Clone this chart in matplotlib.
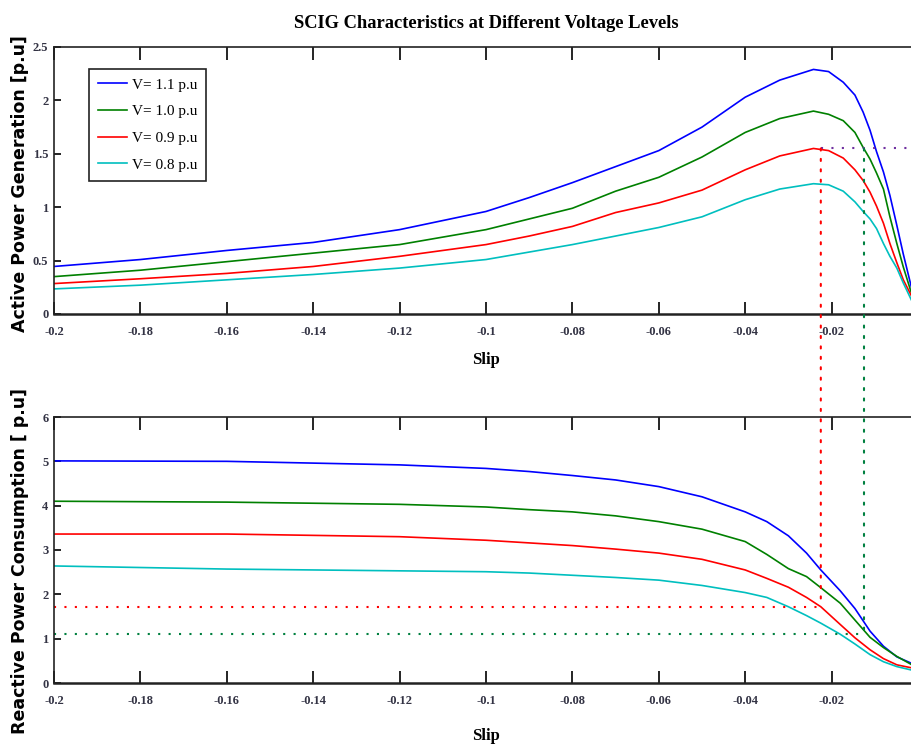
"""
SCIG characteristics at different voltage levels: active power generation
and reactive power consumption against slip.
"""

import matplotlib
matplotlib.use("Agg")
import matplotlib.pyplot as plt
from matplotlib.patches import ConnectionPatch

# ---- data ----
voltage_labels = ["V= 1.1 p.u", "V= 1.0 p.u", "V= 0.9 p.u", "V= 0.8 p.u"]
line_colors = ["#0000ff", "#008000", "#ff0000", "#00bfbf"]

slip_p = [-0.2, -0.18, -0.16, -0.14, -0.12, -0.1, -0.09, -0.08, -0.07, -0.06,
          -0.05, -0.04, -0.032, -0.0242, -0.0207, -0.0173, -0.0146, -0.0127,
          -0.0111, -0.0096, -0.008, -0.0065, -0.0049, -0.0034, -0.0014, 0.0]
p_11 = [0.445, 0.51, 0.595, 0.67, 0.79, 0.96, 1.09, 1.23, 1.38, 1.53,
        1.75, 2.03, 2.19, 2.29, 2.27, 2.17, 2.05, 1.89,
        1.72, 1.52, 1.33, 1.11, 0.83, 0.56, 0.23, 0.02]
p_10 = [0.35, 0.41, 0.49, 0.57, 0.65, 0.79, 0.89, 0.99, 1.15, 1.28,
        1.47, 1.70, 1.83, 1.90, 1.87, 1.81, 1.70, 1.56,
        1.45, 1.32, 1.17, 0.91, 0.66, 0.44, 0.18, 0.02]
p_09 = [0.285, 0.33, 0.38, 0.445, 0.54, 0.65, 0.73, 0.82, 0.95, 1.04,
        1.16, 1.35, 1.48, 1.55, 1.53, 1.46, 1.35, 1.25,
        1.14, 1.01, 0.85, 0.66, 0.48, 0.32, 0.16, 0.02]
p_08 = [0.235, 0.27, 0.32, 0.37, 0.43, 0.51, 0.58, 0.65, 0.73, 0.81,
        0.91, 1.07, 1.17, 1.22, 1.21, 1.15, 1.05, 0.96,
        0.89, 0.80, 0.66, 0.54, 0.43, 0.29, 0.12, 0.01]

slip_q = [-0.2, -0.16, -0.12, -0.1, -0.09, -0.08, -0.07, -0.06, -0.05, -0.04,
          -0.035, -0.03, -0.0258, -0.0225, -0.018, -0.0146, -0.0111, -0.008,
          -0.0049, -0.0014, 0.0]
q_11 = [5.01, 5.0, 4.92, 4.84, 4.77, 4.68, 4.58, 4.43, 4.20, 3.86,
        3.64, 3.32, 2.93, 2.55, 2.08, 1.68, 1.17, 0.83,
        0.59, 0.44, 0.40]
q_10 = [4.10, 4.08, 4.03, 3.97, 3.91, 3.86, 3.77, 3.64, 3.47, 3.19,
        2.90, 2.58, 2.40, 2.15, 1.80, 1.42, 1.03, 0.80,
        0.60, 0.41, 0.37]
q_09 = [3.36, 3.36, 3.30, 3.22, 3.16, 3.10, 3.02, 2.93, 2.79, 2.55,
        2.36, 2.16, 1.93, 1.72, 1.32, 1.02, 0.75, 0.55,
        0.41, 0.34, 0.31]
q_08 = [2.64, 2.57, 2.53, 2.51, 2.48, 2.43, 2.38, 2.32, 2.20, 2.04,
        1.93, 1.72, 1.52, 1.35, 1.10, 0.88, 0.64, 0.48,
        0.37, 0.29, 0.27]

# operating point markers (dotted guide lines)
slip_red_mark = -0.0225
slip_green_mark = -0.0125
p_mark = 1.55
q_red_mark = 1.72
q_green_mark = 1.10

xticks = [-0.2, -0.18, -0.16, -0.14, -0.12, -0.1, -0.08, -0.06, -0.04, -0.02, 0]
# the "0" label falls outside the cropped picture, so it is left blank
xtick_labels = ["-0.2", "-0.18", "-0.16", "-0.14", "-0.12", "-0.1",
                "-0.08", "-0.06", "-0.04", "-0.02", ""]
p_ticks = [0, 0.5, 1, 1.5, 2, 2.5]
p_tick_labels = ["0", "0.5", "1", "1.5", "2", "2.5"]
q_ticks = [0, 1, 2, 3, 4, 5, 6]

SERIF = "Liberation Serif"
DOT = (0, (1, 4))


def style_axes(ax, yticks, ytick_labels, ylim, xpad, xlabelpad):
    ax.set_xlim(-0.2, 0)
    ax.set_ylim(*ylim)
    ax.set_xticks(xticks)
    ax.set_xticklabels(xtick_labels)
    ax.set_yticks(yticks)
    ax.set_yticklabels(ytick_labels)
    ax.tick_params(axis="x", direction="in", length=9, width=1.2,
                   top=True, pad=xpad)
    ax.tick_params(axis="y", direction="in", length=5, width=1.2,
                   right=True, pad=4)
    for lab in ax.get_xticklabels() + ax.get_yticklabels():
        lab.set_fontfamily(SERIF)
        lab.set_fontweight("bold")
        lab.set_fontsize(9)
        lab.set_color("#333344")
    for sp in ax.spines.values():
        sp.set_linewidth(1.2)
        sp.set_color("#222222")
    ax.spines["bottom"].set_linewidth(1.8)
    ax.set_xlabel("Slip", fontfamily=SERIF, fontweight="bold", fontsize=12,
                  labelpad=xlabelpad)


fig = plt.figure(figsize=(9.12, 7.49), dpi=100)
ax1 = fig.add_axes([54 / 912, 1 - 314 / 749, 864 / 912, 267 / 749])
ax2 = fig.add_axes([54 / 912, 1 - 683 / 749, 864 / 912, 266 / 749])

for vals, col, lab in zip([p_11, p_10, p_09, p_08], line_colors, voltage_labels):
    ax1.plot(slip_p, vals, color=col, lw=1.2, label=lab)
for vals, col in zip([q_11, q_10, q_09, q_08], line_colors):
    ax2.plot(slip_q, vals, color=col, lw=1.2)

# dotted guide lines
ax1.plot([slip_red_mark, 0], [p_mark, p_mark], color="#7030a0", lw=1.5, ls=DOT)
ax2.plot([-0.2, slip_red_mark], [q_red_mark, q_red_mark], color="#ff0000",
         lw=1.5, ls=DOT)
ax2.plot([-0.2, slip_green_mark], [q_green_mark, q_green_mark],
         color="#008040", lw=1.5, ls=DOT)
for xs, q_end, col in [(slip_red_mark, q_red_mark, "#ff0000"),
                       (slip_green_mark, q_green_mark, "#008040")]:
    con = ConnectionPatch(xyA=(xs, p_mark), coordsA=ax1.transData,
                          xyB=(xs, q_end), coordsB=ax2.transData,
                          color=col, lw=1.5, linestyle=DOT)
    fig.add_artist(con)

style_axes(ax1, p_ticks, p_tick_labels, (0, 2.5), xpad=9, xlabelpad=10)
style_axes(ax2, q_ticks, [str(t) for t in q_ticks], (0, 6), xpad=9,
           xlabelpad=15)

ax1.set_ylabel("Active Power Generation [p.u]", fontweight="bold",
               fontsize=12.5)
ax2.set_ylabel("Reactive Power Consumption [ p.u]", fontweight="bold",
               fontsize=12.5)
ax1.yaxis.set_label_coords(-0.029, 0.49)
ax2.yaxis.set_label_coords(-0.029, 0.46)

ax1.set_title("SCIG Characteristics at Different Voltage Levels",
              fontfamily=SERIF, fontweight="bold", fontsize=13.3, pad=14)

leg = ax1.legend(loc="upper left", bbox_to_anchor=(0.0405, 0.918),
                 borderaxespad=0, prop={"family": SERIF, "size": 11},
                 fancybox=False, framealpha=1, edgecolor="#222222",
                 handlelength=1.9, borderpad=0.6, labelspacing=0.85,
                 handletextpad=0.3)
leg.get_frame().set_linewidth(1.2)

fig.savefig("out.png", dpi=100)
plt.close(fig)
